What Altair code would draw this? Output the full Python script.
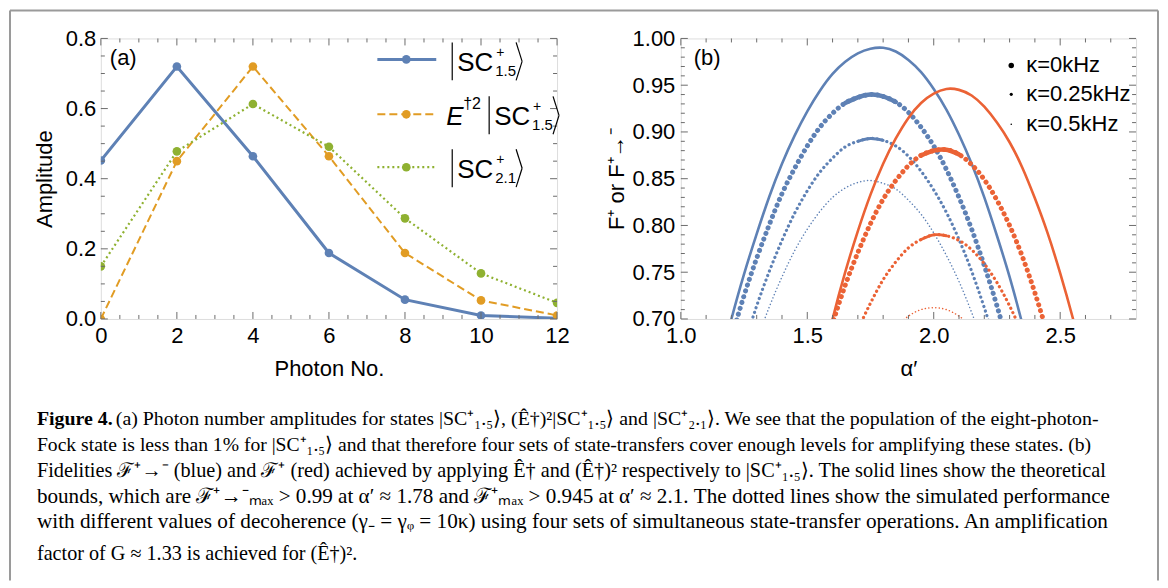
import altair as alt
import pandas as pd

FONT = "Liberation Sans"
SERIF = "Liberation Serif"
BLUE = "#5E81B5"
ORANGE = "#E19C24"
GREEN = "#8FB131"
RED = "#EB6235"
FRAME = "#6b6b6b"

# ---------------- panel (a) data ----------------
photon_n = [0, 2, 4, 6, 8, 10, 12]
amp_sc15 = [0.452, 0.720, 0.464, 0.188, 0.055, 0.010, 0.002]
amp_e2_sc15 = [0.0, 0.450, 0.720, 0.464, 0.188, 0.053, 0.010]
amp_sc21 = [0.150, 0.478, 0.613, 0.491, 0.287, 0.130, 0.046]

# tick positions
a_x_major = [0, 2, 4, 6, 8, 10, 12]
a_x_minor = [0.5, 1, 1.5, 2.5, 3, 3.5, 4.5, 5, 5.5, 6.5, 7, 7.5, 8.5, 9, 9.5, 10.5, 11, 11.5]
a_y_major = [0, 0.2, 0.4, 0.6, 0.8]
a_y_minor = [0.05, 0.1, 0.15, 0.25, 0.3, 0.35, 0.45, 0.5, 0.55, 0.65, 0.7, 0.75]
b_x_major = [1.0, 1.5, 2.0, 2.5]
b_x_minor = [1.1, 1.2, 1.3, 1.4, 1.6, 1.7, 1.8, 1.9, 2.1, 2.2, 2.3, 2.4, 2.6, 2.7]
b_y_major = [0.70, 0.75, 0.80, 0.85, 0.90, 0.95, 1.00]
b_y_minor = [0.71, 0.72, 0.73, 0.74, 0.76, 0.77, 0.78, 0.79, 0.81, 0.82, 0.83, 0.84,
             0.86, 0.87, 0.88, 0.89, 0.91, 0.92, 0.93, 0.94, 0.96, 0.97, 0.98, 0.99]

# ---------------- panel (b) data ----------------
bs_alpha = [1.15, 1.20, 1.25, 1.30, 1.35, 1.40, 1.45, 1.50, 1.55, 1.60, 1.65, 1.70, 1.75,
            1.80, 1.85, 1.90, 1.95, 2.00, 2.05, 2.10, 2.15, 2.20, 2.25, 2.30, 2.35, 2.40]
bs_F = [0.648, 0.700, 0.748, 0.791, 0.831, 0.866, 0.896, 0.922, 0.944, 0.962, 0.975, 0.984, 0.989,
        0.990, 0.986, 0.977, 0.964, 0.946, 0.924, 0.897, 0.866, 0.830, 0.789, 0.745, 0.695, 0.641]

b0_alpha = [1.20, 1.25, 1.30, 1.35, 1.40, 1.45, 1.50, 1.55, 1.60, 1.65, 1.70, 1.75,
            1.80, 1.85, 1.90, 1.95, 2.00, 2.05, 2.10, 2.15, 2.20, 2.25, 2.30]
b0_F = [0.680, 0.725, 0.765, 0.801, 0.834, 0.861, 0.885, 0.905, 0.920, 0.931, 0.937, 0.940,
        0.938, 0.932, 0.921, 0.905, 0.885, 0.860, 0.830, 0.796, 0.757, 0.714, 0.666]

b25_alpha = [1.25, 1.30, 1.35, 1.40, 1.45, 1.50, 1.55, 1.60, 1.65, 1.70, 1.75,
             1.80, 1.85, 1.90, 1.95, 2.00, 2.05, 2.10, 2.15, 2.20, 2.25]
b25_F = [0.672, 0.714, 0.751, 0.784, 0.813, 0.837, 0.857, 0.872, 0.884, 0.890, 0.893,
         0.891, 0.885, 0.874, 0.858, 0.838, 0.814, 0.785, 0.751, 0.712, 0.670]

b5_alpha = [1.30, 1.35, 1.40, 1.45, 1.50, 1.55, 1.60, 1.65, 1.70, 1.75,
            1.80, 1.85, 1.90, 1.95, 2.00, 2.05, 2.10, 2.15, 2.20]
b5_F = [0.677, 0.713, 0.745, 0.773, 0.796, 0.815, 0.830, 0.840, 0.846, 0.848,
        0.845, 0.839, 0.827, 0.812, 0.792, 0.768, 0.740, 0.707, 0.670]

rs_alpha = [1.55, 1.60, 1.65, 1.70, 1.75, 1.80, 1.85, 1.90, 1.95, 2.00, 2.05,
            2.10, 2.15, 2.20, 2.25, 2.30, 2.35, 2.40, 2.45, 2.50, 2.55, 2.60]
rs_F = [0.644, 0.700, 0.750, 0.794, 0.833, 0.866, 0.893, 0.915, 0.931, 0.941, 0.946,
        0.945, 0.939, 0.927, 0.910, 0.889, 0.862, 0.829, 0.792, 0.749, 0.701, 0.648]

r0_alpha = [1.55, 1.60, 1.65, 1.70, 1.75, 1.80, 1.85, 1.90, 1.95, 2.00,
            2.05, 2.10, 2.15, 2.20, 2.25, 2.30, 2.35, 2.40, 2.45]
r0_F = [0.649, 0.695, 0.736, 0.771, 0.802, 0.828, 0.848, 0.864, 0.875, 0.880,
        0.881, 0.876, 0.865, 0.849, 0.827, 0.800, 0.767, 0.728, 0.684]

r25_alpha = [1.65, 1.70, 1.75, 1.80, 1.85, 1.90, 1.95, 2.00,
             2.05, 2.10, 2.15, 2.20, 2.25, 2.30, 2.35]
r25_F = [0.653, 0.688, 0.717, 0.742, 0.761, 0.776, 0.785, 0.790,
         0.789, 0.784, 0.774, 0.759, 0.739, 0.714, 0.685]

r5_alpha = [1.85, 1.90, 1.95, 2.00, 2.05, 2.10, 2.15, 2.20]
r5_F = [0.692, 0.703, 0.710, 0.712, 0.710, 0.703, 0.692, 0.676]

# ---------------- text ----------------
legend_b_labels = ["κ=0kHz", "κ=0.25kHz", "κ=0.5kHz"]
caption_bold = "Figure 4."
caption_lines = [
    "(a) Photon number amplitudes for states |SC⁺₁.₅⟩, (Ê†)²|SC⁺₁.₅⟩ and |SC⁺₂.₁⟩. We see that the population of the eight-photon-",
    "Fock state is less than 1% for |SC⁺₁.₅⟩ and that therefore four sets of state-transfers cover enough levels for amplifying these states. (b)",
    "Fidelities ℱ⁺→⁻ (blue) and ℱ⁺ (red) achieved by applying Ê† and (Ê†)² respectively to |SC⁺₁.₅⟩. The solid lines show the theoretical",
    "bounds, which are ℱ⁺→⁻ₘₐₓ > 0.99 at α′ ≈ 1.78 and ℱ⁺ₘₐₓ > 0.945 at α′ ≈ 2.1. The dotted lines show the simulated performance",
    "with different values of decoherence (γ₋ = γᵩ = 10κ) using four sets of simultaneous state-transfer operations. An amplification",
    "factor of G ≈ 1.33 is achieved for (Ê†)².",
]
caption_sizes = [19.9, 19.65, 20.3, 21.15, 21.25, 20.2]

W_A, H_A = 457, 281
W_B, H_B = 456, 281
one = pd.DataFrame({"k": [0]})


def txt(text, x, y, size=22, align="left", font=FONT, style="normal", weight="normal", color="black"):
    return alt.Chart(one).mark_text(text=text, align=align, baseline="middle", font=font,
                                    fontSize=size, fontStyle=style, fontWeight=weight,
                                    color=color).encode(x=alt.value(x), y=alt.value(y))


def seg(x1, y1, x2, y2, color="black", width=1.2):
    return alt.Chart(one).mark_rule(color=color, strokeWidth=width).encode(
        x=alt.value(x1), y=alt.value(y1), x2=alt.value(x2), y2=alt.value(y2))


def main_axis(orient, values, fmt, title, pad, tpad):
    return alt.Axis(orient=orient, values=values, format=fmt, title=title, ticks=False, tickSize=0,
                    domain=False, grid=False, labelFont=FONT, labelFontSize=22, labelColor="black",
                    labelPadding=pad, labelFlush=False, labelOverlap=False, titleFont=FONT,
                    titleFontSize=22, titleFontWeight="normal", titleColor="black", titlePadding=tpad)


def tick_rules(xsc, ysc, xmaj, xmin_, ymaj, ymin_, w, h):
    out = []
    for vals, size in [(xmaj, 7), (xmin_, 4)]:
        d = alt.Chart(pd.DataFrame({"t": vals})).mark_rule(color=FRAME, strokeWidth=1)
        out.append(d.encode(x=alt.X("t:Q", scale=xsc, axis=None), y=alt.value(h), y2=alt.value(h - size)))
        out.append(d.encode(x=alt.X("t:Q", scale=xsc, axis=None), y=alt.value(0), y2=alt.value(size)))
    for vals, size in [(ymaj, 7), (ymin_, 4)]:
        d = alt.Chart(pd.DataFrame({"t": vals})).mark_rule(color=FRAME, strokeWidth=1)
        out.append(d.encode(y=alt.Y("t:Q", scale=ysc, axis=None), x=alt.value(0), x2=alt.value(size)))
        out.append(d.encode(y=alt.Y("t:Q", scale=ysc, axis=None), x=alt.value(w), x2=alt.value(w - size)))
    return out


# ================= panel (a) =================
dfA = pd.DataFrame({
    "n": photon_n * 3,
    "amp": amp_sc15 + amp_e2_sc15 + amp_sc21,
    "s": ["sc15"] * 7 + ["e2"] * 7 + ["sc21"] * 7,
})
xA = alt.Scale(domain=[0, 12], nice=False, zero=False)
yA = alt.Scale(domain=[0, 0.8], nice=False, zero=False)

baseA = alt.Chart(dfA)
lineA_blue = baseA.transform_filter("datum.s == 'sc15'").mark_line(
    color=BLUE, strokeWidth=3, clip=True).encode(
    x=alt.X("n:Q", scale=xA, axis=main_axis("bottom", a_x_major, "d", "Photon No.", 7, 12)),
    y=alt.Y("amp:Q", scale=yA, axis=main_axis("left", a_y_major, ".1f", "Amplitude", 5, 9)),
)


def series_layers(key, color, dash, width):
    base = baseA.transform_filter(f"datum.s == '{key}'")
    ln = base.mark_line(color=color, strokeWidth=width, strokeDash=dash, clip=True).encode(
        x=alt.X("n:Q", scale=xA, axis=None), y=alt.Y("amp:Q", scale=yA, axis=None))
    pt = base.mark_point(filled=True, color=color, size=75, opacity=1, clip=True).encode(
        x=alt.X("n:Q", scale=xA, axis=None), y=alt.Y("amp:Q", scale=yA, axis=None))
    return ln, pt


o_ln, o_pt = series_layers("e2", ORANGE, [8, 4], 2)
g_ln, g_pt = series_layers("sc21", GREEN, [2, 3], 2.2)
b_pt = baseA.transform_filter("datum.s == 'sc15'").mark_point(
    filled=True, color=BLUE, size=75, opacity=1, clip=True).encode(
    x=alt.X("n:Q", scale=xA, axis=None), y=alt.Y("amp:Q", scale=yA, axis=None))

ox, oy = 100, 37  # absolute origin of panel (a) plot


def legend_entry(color, dash, width, y):
    r = alt.Chart(one).mark_rule(color=color, strokeWidth=width, strokeDash=dash).encode(
        x=alt.value(377 - ox), x2=alt.value(436 - ox), y=alt.value(y - oy), y2=alt.value(y - oy))
    p = alt.Chart(one).mark_point(filled=True, color=color, size=75, opacity=1).encode(
        x=alt.value(406 - ox), y=alt.value(y - oy))
    return [r, p]


def ket(x0, yc, sub):
    parts = []
    parts.append(seg(x0 - ox, yc - 19 - oy, x0 - ox, yc + 19 - oy))
    parts.append(txt("SC", x0 + 5 - ox, yc + 2 - oy, size=26))
    parts.append(txt("+", x0 + 44 - ox, yc - 8 - oy, size=14))
    parts.append(txt(sub, x0 + 43 - ox, yc + 10 - oy, size=15))
    xb = x0 + 64
    parts.append(seg(xb - ox, yc - 19 - oy, xb + 6 - ox, yc - oy))
    parts.append(seg(xb + 6 - ox, yc - oy, xb - ox, yc + 19 - oy))
    return parts


FRAME_OUT = "#9a9a9a"
outer = [
    seg(9 - ox, 9 - oy, 9 - ox, 580 - oy, color=FRAME_OUT, width=2),
    seg(9 - ox, 9 - oy, 1159 - ox, 9 - oy, color=FRAME_OUT, width=2),
    seg(1159 - ox, 9 - oy, 1159 - ox, 580 - oy, color=FRAME_OUT, width=2),
]

caption_ys = [418, 444, 470, 496, 521, 553]
caption_layers = [txt(caption_bold, 36 - ox, caption_ys[0] - oy, size=caption_sizes[0], font=SERIF,
                      weight="bold")]
for i, line in enumerate(caption_lines):
    x0 = 115 if i == 0 else 36
    caption_layers.append(txt(line, x0 - ox, caption_ys[i] - oy, size=caption_sizes[i], font=SERIF))

legendA = (legend_entry(BLUE, [1, 0], 3, 58) + legend_entry(ORANGE, [8, 4], 2, 113)
           + legend_entry(GREEN, [2, 3], 2.2, 166))
legendA += ket(452, 60, "1.5")
legendA += [txt("E", 446 - ox, 116 - oy, size=26, style="italic"),
            txt("†2", 463 - ox, 103 - oy, size=16)]
legendA += ket(489, 114, "1.5")
legendA += ket(452, 167, "2.1")

panelA = alt.layer(
    lineA_blue, o_ln, g_ln, b_pt, o_pt, g_pt,
    *tick_rules(xA, yA, a_x_major, a_x_minor, a_y_major, a_y_minor, W_A, H_A),
    txt("(a)", 109 - ox, 57 - oy, size=22),
    *legendA,
    *outer,
    *caption_layers,
).resolve_axis(x="independent", y="independent").properties(width=W_A, height=H_A)

# ================= panel (b) =================
xB = alt.Scale(domain=[1.0, 2.8], nice=False, zero=False)
yB = alt.Scale(domain=[0.7, 1.0], nice=False, zero=False)


def curve(a, f, color, width, dash=None, axes=False, band=None):
    df = pd.DataFrame({"alpha": a, "F": f})
    kw = dict(color=color, strokeWidth=width, clip=True, interpolate="natural", strokeCap="round")
    if dash is not None:
        kw["strokeDash"] = dash
    if axes:
        enc = dict(
            x=alt.X("alpha:Q", scale=xB, axis=main_axis("bottom", b_x_major, ".1f", "α′", 7, 12)),
            y=alt.Y("F:Q", scale=yB, axis=main_axis("left", b_y_major, ".2f", "F⁺ or F⁺→⁻", 6, 4)),
        )
    else:
        enc = dict(x=alt.X("alpha:Q", scale=xB, axis=None), y=alt.Y("F:Q", scale=yB, axis=None))
    layers = [alt.Chart(df).mark_line(**kw).encode(**enc)]
    if band is not None:
        # near the maximum the densely sampled dots merge into a continuous band
        lo, hi = band
        layers.append(alt.Chart(df).transform_filter(
            f"datum.alpha >= {lo} && datum.alpha <= {hi}").mark_line(
            color=color, strokeWidth=width * 0.9, clip=True, interpolate="natural", strokeCap="round"
        ).encode(x=alt.X("alpha:Q", scale=xB, axis=None), y=alt.Y("F:Q", scale=yB, axis=None)))
    return layers


bx, by = 681, 37

panelB = alt.layer(
    *curve(bs_alpha, bs_F, BLUE, 2.6, axes=True),
    *curve(b0_alpha, b0_F, BLUE, 5, [0.1, 6], band=(1.65, 1.85)),
    *curve(b25_alpha, b25_F, BLUE, 3.2, [0.1, 4.8], band=(1.70, 1.80)),
    *curve(b5_alpha, b5_F, BLUE, 1.5, [0.1, 3.4]),
    *curve(rs_alpha, rs_F, RED, 2.6),
    *curve(r0_alpha, r0_F, RED, 5, [0.1, 6], band=(1.95, 2.10)),
    *curve(r25_alpha, r25_F, RED, 3.2, [0.1, 4.8], band=(1.95, 2.05)),
    *curve(r5_alpha, r5_F, RED, 1.5, [0.1, 3.4]),
    *tick_rules(xB, yB, b_x_major, b_x_minor, b_y_major, b_y_minor, W_B, H_B),
    txt("(b)", 694 - bx, 57 - by, size=22),
    alt.Chart(one).mark_circle(size=30, color="black", opacity=1).encode(x=alt.value(1012 - bx), y=alt.value(64 - by)),
    alt.Chart(one).mark_circle(size=10, color="black", opacity=1).encode(x=alt.value(1012 - bx), y=alt.value(93 - by)),
    alt.Chart(one).mark_circle(size=2.5, color="black", opacity=1).encode(x=alt.value(1012 - bx), y=alt.value(123 - by)),
    txt(legend_b_labels[0], 1027 - bx, 64 - by, size=22),
    txt(legend_b_labels[1], 1027 - bx, 93 - by, size=22),
    txt(legend_b_labels[2], 1027 - bx, 123 - by, size=22),
).resolve_axis(x="independent", y="independent").properties(width=W_B, height=H_B)

chart = alt.hconcat(panelA, panelB, spacing=124, bounds="flush").properties(
    padding=0
).configure_view(stroke=FRAME, strokeWidth=1.2).configure(font=FONT)

chart.save("out.html", embed_options={"renderer": "svg", "actions": False})
